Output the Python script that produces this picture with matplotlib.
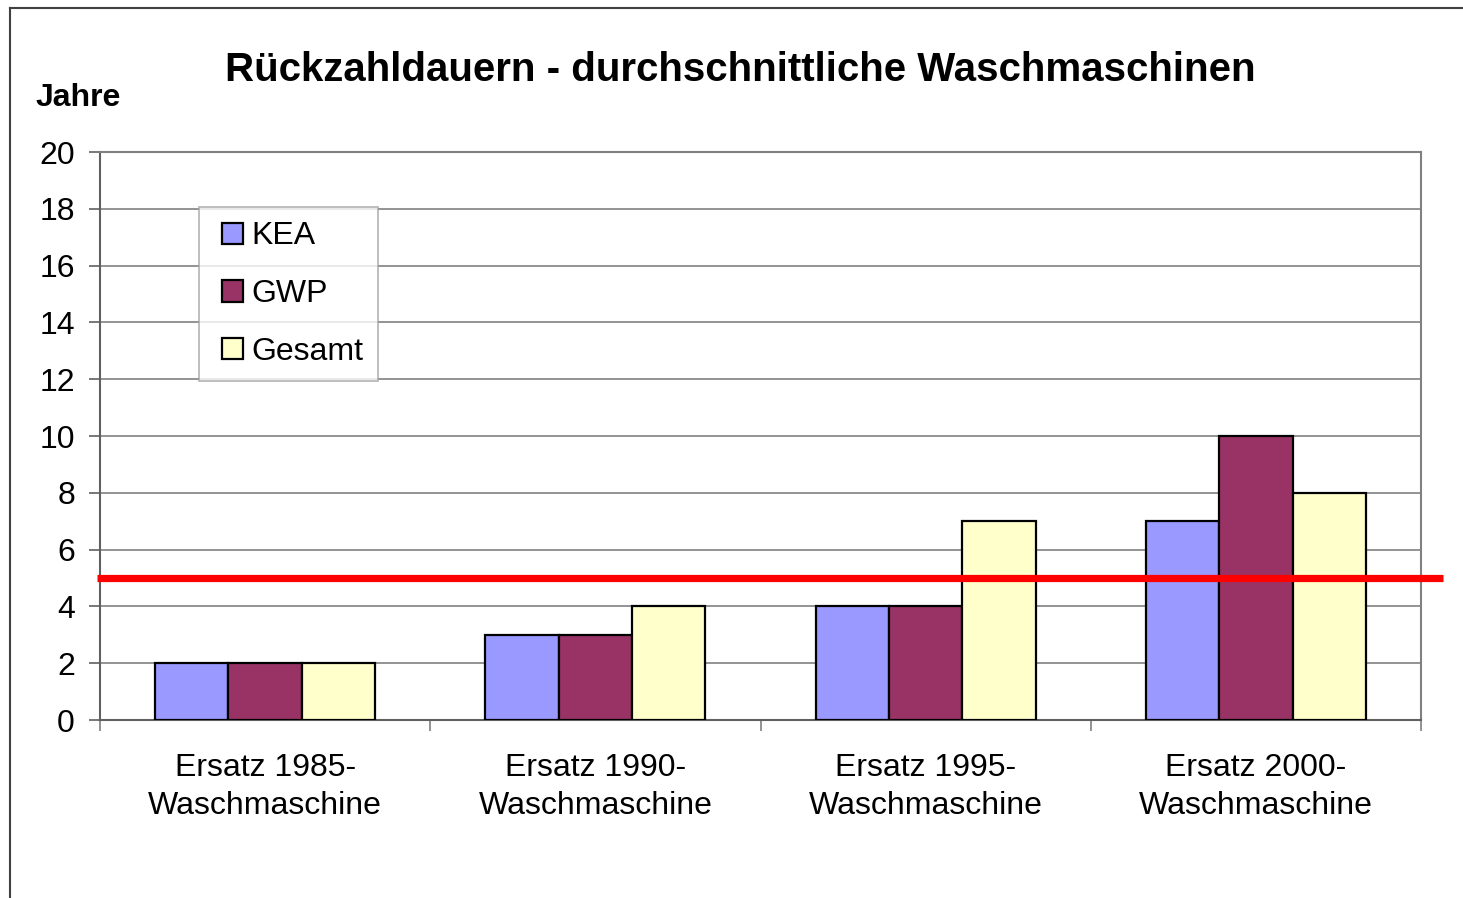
import matplotlib
matplotlib.use("Agg")
import matplotlib.pyplot as plt
from matplotlib.lines import Line2D
from matplotlib.container import BarContainer
from matplotlib.legend_handler import HandlerPatch, update_from_first_child
import numpy as np

plt.rcParams['font.family'] = ['Liberation Sans', 'DejaVu Sans']

categories = ["Ersatz 1985-\nWaschmaschine", "Ersatz 1990-\nWaschmaschine",
              "Ersatz 1995-\nWaschmaschine", "Ersatz 2000-\nWaschmaschine"]
series_names = ["KEA", "GWP", "Gesamt"]
kea = [2, 3, 4, 7]
gwp = [2, 3, 4, 10]
gesamt = [2, 4, 7, 8]
threshold = 5
colors = ["#9999FF", "#993366", "#FFFFCC"]
yticks = list(range(0, 21, 2))

fig = plt.figure(figsize=(14.63, 8.98), dpi=100)
ax = fig.add_axes([100/1463, 1-720/898, 1321/1463, 568/898])

x = np.arange(len(categories)) + 0.5
bw = 0.222
for i, (vals, c, n) in enumerate(zip([kea, gwp, gesamt], colors, series_names)):
    ax.bar(x + (i-1)*bw, vals, width=bw, color=c, edgecolor="black", linewidth=1.6, label=n, zorder=3)

ax.set_xlim(0, 4)
ax.set_ylim(0, 20)
ax.set_yticks(yticks)
ax.set_yticklabels([str(t) for t in yticks], fontsize=23)
ax.yaxis.grid(True, color="#808080", linewidth=1.2, zorder=0)
ax.set_axisbelow(True)
ax.set_xticks([0, 1, 2, 3, 4])
ax.set_xticklabels([])
ax.set_xticks(x, minor=True)
ax.set_xticklabels(categories, minor=True, fontsize=23, linespacing=1.32)
ax.tick_params(axis="x", which="minor", length=0, pad=24)
ax.tick_params(axis="x", which="major", length=8, color="#808080", width=1.2, direction="out")
ax.tick_params(axis="y", length=8, color="#606060", width=1.2, pad=10)
for s in ax.spines.values():
    s.set_color("#808080")
    s.set_linewidth(1.5)
ax.spines["left"].set_color("#606060")
ax.spines["bottom"].set_color("#606060")

ax.plot([-0.009, 4.067], [threshold, threshold], color="#FF0000", linewidth=5.2, clip_on=False, zorder=5, solid_capstyle="butt")

leg = ax.legend(loc="upper left", bbox_to_anchor=(0.075, 0.903), fontsize=23, frameon=True,
                fancybox=False, edgecolor="#a0a0a0", handlelength=0.93, handleheight=0.65,
                handletextpad=0.25, labelspacing=0.87, borderpad=0.45, borderaxespad=0,
                handler_map={BarContainer: HandlerPatch(xpad=0.28, update_func=update_from_first_child)})
leg.get_frame().set_linewidth(1.2)

fig.text(740/1463, 1-70/898, "Rückzahldauern - durchschnittliche Waschmaschinen",
         ha="center", va="center", fontsize=29, fontweight="bold")
fig.text(36/1463, 1-98/898, "Jahre", ha="left", va="center", fontsize=23, fontweight="bold")

fig.add_artist(Line2D([10/1463, 10/1463], [0, 1-8/898], color="#404040", linewidth=1.5))
fig.add_artist(Line2D([10/1463, 1], [1-8/898, 1-8/898], color="#404040", linewidth=1.5))

fig.savefig("out.png", dpi=100)
